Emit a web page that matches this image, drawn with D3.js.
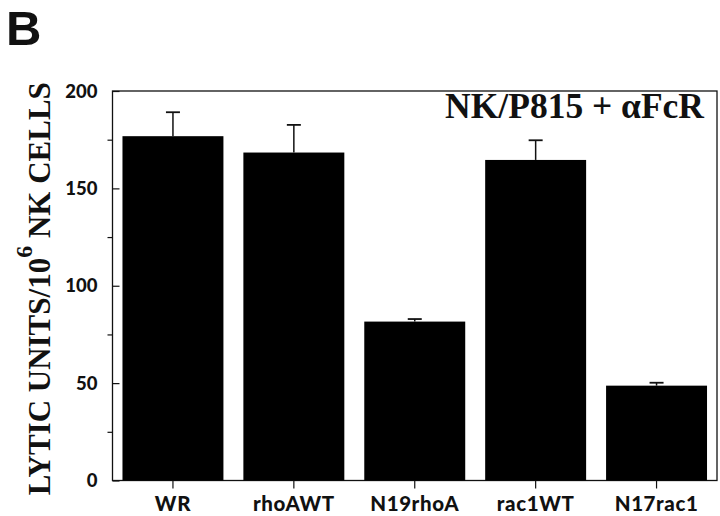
<!DOCTYPE html>
<html>
<head>
<meta charset="utf-8">
<script src="https://cdn.jsdelivr.net/npm/d3@7"></script>
<style>
  body { margin: 0; background: #fff; }
  svg { display: block; }
  .tick-label { font-family: Lato, "Open Sans", sans-serif; font-weight: 900; fill: #111; }
  .serif { font-family: "Liberation Serif", "Times New Roman", serif; font-weight: bold; fill: #111; }
</style>
</head>
<body>
<div id="chart"></div>
<script>
// bar values
const categories = ["WR", "rhoAWT", "N19rhoA", "rac1WT", "N17rac1"];
const lyticUnits = [176.8, 168.4, 81.6, 164.6, 48.7];
const errorUpper = [189.1, 182.6, 82.9, 174.7, 50.2];
const majorTicks = [0, 50, 100, 150, 200];
const minorTicks = [25, 75, 125, 175];

const width = 720, height = 516;
const margin = { top: 91, right: 3, bottom: 35.5, left: 112.5 };
const innerW = width - margin.left - margin.right;
const innerH = height - margin.top - margin.bottom;

const svg = d3.select("#chart").append("svg")
    .attr("width", width)
    .attr("height", height);

// panel letter
svg.append("text")
    .attr("x", 6)
    .attr("y", 45)
    .attr("font-family", "Liberation Sans, Arial, sans-serif")
    .attr("font-weight", "bold")
    .attr("font-size", 49)
    .attr("fill", "#111")
    .text("B");

const g = svg.append("g")
    .attr("transform", "translate(" + margin.left + "," + margin.top + ")");

const x = d3.scaleBand()
    .domain(categories)
    .range([0, innerW])
    .paddingInner(0.165)
    .paddingOuter(0.0825);

const y = d3.scaleLinear()
    .domain([0, 200])
    .range([innerH, 0]);

// frame
g.append("rect")
    .attr("x", 0)
    .attr("y", 0)
    .attr("width", innerW)
    .attr("height", innerH)
    .attr("fill", "none")
    .attr("stroke", "#111")
    .attr("stroke-width", 1.3);

// bars
g.selectAll(".bar")
  .data(categories)
  .enter().append("rect")
    .attr("class", "bar")
    .attr("x", d => x(d))
    .attr("y", (d, i) => y(lyticUnits[i]))
    .attr("width", x.bandwidth())
    .attr("height", (d, i) => innerH - y(lyticUnits[i]))
    .attr("fill", "#000");

// error bars (upper only)
const err = g.selectAll(".err")
  .data(categories)
  .enter().append("g")
    .attr("class", "err")
    .attr("transform", d => "translate(" + (x(d) + x.bandwidth() / 2) + ",0)");

err.append("line")
    .attr("y1", (d, i) => y(lyticUnits[i]))
    .attr("y2", (d, i) => y(errorUpper[i]))
    .attr("stroke", "#111")
    .attr("stroke-width", 1.5);

err.append("line")
    .attr("x1", -7)
    .attr("x2", 7)
    .attr("y1", (d, i) => y(errorUpper[i]))
    .attr("y2", (d, i) => y(errorUpper[i]))
    .attr("stroke", "#111")
    .attr("stroke-width", 1.8);

// y axis: major ticks inward, minor ticks outward
const yMajor = g.append("g")
    .call(d3.axisRight(y).tickValues(majorTicks).tickSize(7).tickFormat(""));
yMajor.select(".domain").remove();
yMajor.selectAll("line").attr("stroke", "#111").attr("stroke-width", 1.2);

const yMinor = g.append("g")
    .call(d3.axisLeft(y).tickValues(minorTicks).tickSize(5).tickFormat(""));
yMinor.select(".domain").remove();
yMinor.selectAll("line").attr("stroke", "#111").attr("stroke-width", 1.2);

g.selectAll(".ylab")
  .data(majorTicks)
  .enter().append("text")
    .attr("class", "tick-label")
    .attr("x", -15)
    .attr("y", d => y(d))
    .attr("dy", "0.36em")
    .attr("text-anchor", "end")
    .attr("font-size", 18.5)
    .text(d => d);

// x axis
const xAxis = g.append("g")
    .attr("transform", "translate(0," + innerH + ")")
    .call(d3.axisBottom(x).tickSize(8).tickPadding(8));
xAxis.select(".domain").remove();
xAxis.selectAll("line").attr("stroke", "#111").attr("stroke-width", 1.2);
xAxis.selectAll("text")
    .attr("class", "tick-label")
    .attr("font-size", 20.5)
    .attr("letter-spacing", 0.6)
    .attr("fill", "#111");

// title inside frame
g.append("text")
    .attr("class", "serif")
    .attr("x", innerW - 13)
    .attr("y", 27)
    .attr("text-anchor", "end")
    .attr("font-size", 35.5)
    .text("NK/P815 + \u03B1FcR");

// y axis title
const yTitle = svg.append("text")
    .attr("class", "serif")
    .attr("transform", "translate(50," + (margin.top + innerH / 2 + 3) + ") rotate(-90)")
    .attr("text-anchor", "middle")
    .attr("font-size", 31);
yTitle.append("tspan").text("LYTIC UNITS/10");
yTitle.append("tspan").attr("dy", -18).attr("font-size", 24).text("6");
yTitle.append("tspan").attr("dy", 18).text(" NK CELLS");
</script>
</body>
</html>
